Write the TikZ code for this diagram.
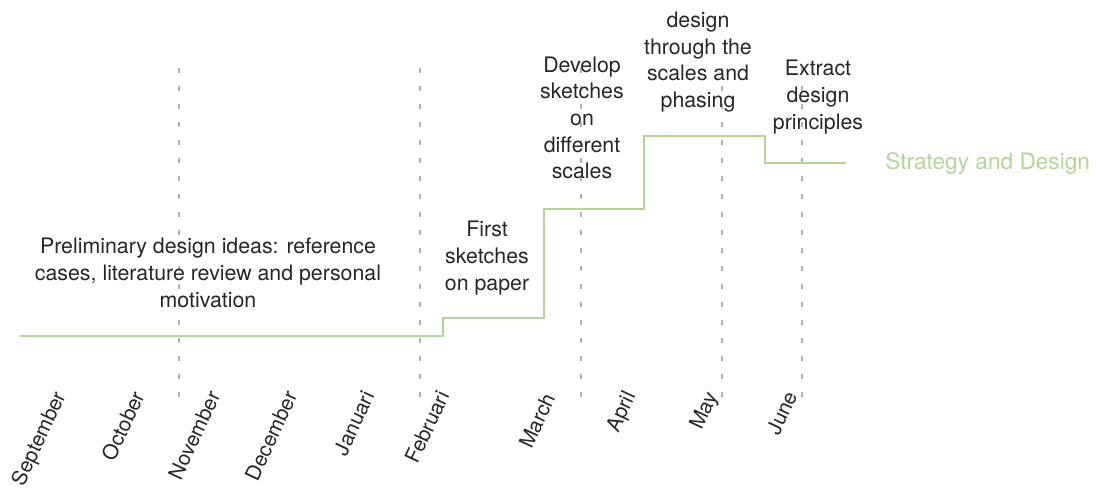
\documentclass[tikz,border=0pt]{standalone}
\usepackage{fontspec}
\setmainfont{TeX Gyre Heros}
\definecolor{stratgreen}{RGB}{178,214,150}
\definecolor{gridgray}{RGB}{178,178,178}

\begin{document}
\begin{tikzpicture}[x=0.75pt,y=-0.75pt,
  month/.style={rotate=65,anchor=north east,inner sep=0pt,font=\fontsize{15.5}{18}\selectfont,text=black!85},
  phase/.style={align=center,inner sep=0pt,font=\fontsize{16}{20}\selectfont,text=black!85},
  monthline/.style={gridgray,line width=0.8pt,dash pattern=on 4pt off 9.5pt}]
\useasboundingbox (0,0) rectangle (1096,489);

\draw[monthline] (179,68) -- (179,397);
\draw[monthline] (420,68) -- (420,397);
\draw[monthline] (581,68) -- (581,397);
\draw[monthline] (722,68) -- (722,397);
\draw[monthline] (802,68) -- (802,397);

\draw[stratgreen,line width=1.5pt] (20,336) -- (443,336) -- (443,318) -- (544,318)
  -- (544,209) -- (644,209) -- (644,136) -- (765,136) -- (765,163) -- (846,163);

\node[phase] (prelim) at (208,273) {Preliminary design ideas: reference\\cases, literature review and personal\\motivation};
\node[phase] (first) at (487,258) {First\\sketches\\on paper};
\node[phase] (develop) at (582,118) {Develop\\sketches\\on\\different\\scales};
\node[phase] (scales) at (698,62) {design\\through the\\scales and\\phasing};
\node[phase] (extract) at (818,97) {Extract\\design\\principles};
\node[phase,anchor=west,text=stratgreen,font=\fontsize{17}{20}\selectfont] (strategy) at (885,164) {Strategy and Design};

\node[month] (sep) at (52,389) {September};
\node[month] (oct) at (131,389) {October};
\node[month] (nov) at (207,389) {November};
\node[month] (dec) at (284,389) {December};
\node[month] (jan) at (361,389) {Januari};
\node[month] (feb) at (436,389) {Februari};
\node[month] (mar) at (542,391) {March};
\node[month] (apr) at (622,389) {April};
\node[month] (may) at (704,389) {May};
\node[month] (jun) at (784,389) {June};
\end{tikzpicture}
\end{document}
